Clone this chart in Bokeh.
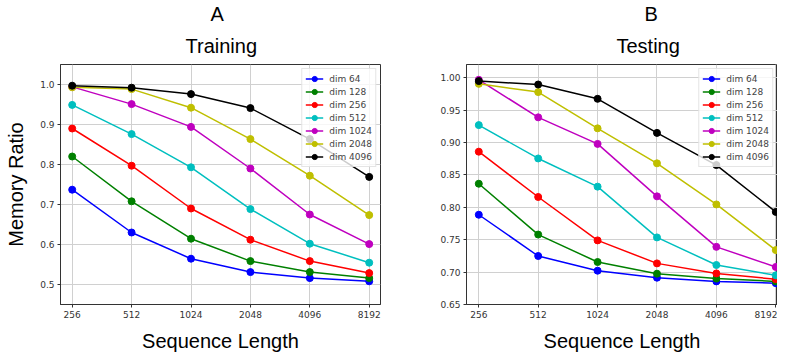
from bokeh.plotting import figure
from bokeh.layouts import row
from bokeh.models import Range1d, FixedTicker, PrintfTickFormatter, NumeralTickFormatter, Title
from bokeh.embed import file_html
from bokeh.resources import INLINE

seq_lengths = [256, 512, 1024, 2048, 4096, 8192]
dim_labels = ["dim 64", "dim 128", "dim 256", "dim 512", "dim 1024", "dim 2048", "dim 4096"]
colors = ["#0000ff", "#008000", "#ff0000", "#00bfbf", "#bf00bf", "#bfbf00", "#000000"]

# Training memory ratio
train_64 = [0.736, 0.629, 0.5635, 0.530, 0.515, 0.507]
train_128 = [0.819, 0.707, 0.6135, 0.5575, 0.530, 0.515]
train_256 = [0.889, 0.796, 0.689, 0.611, 0.5575, 0.5275]
train_512 = [0.948, 0.875, 0.792, 0.6875, 0.601, 0.5535]
train_1024 = [0.993, 0.950, 0.893, 0.789, 0.674, 0.600]
train_2048 = [0.992, 0.9875, 0.941, 0.8625, 0.771, 0.6725]
train_4096 = [0.996, 0.991, 0.975, 0.940, 0.8625, 0.768]

# Testing memory ratio
test_64 = [0.7886, 0.7249, 0.7022, 0.6914, 0.6857, 0.683]
test_128 = [0.8365, 0.758, 0.7156, 0.6976, 0.690, 0.6857]
test_256 = [0.886, 0.816, 0.749, 0.7135, 0.698, 0.689]
test_512 = [0.927, 0.8755, 0.832, 0.7536, 0.711, 0.695]
test_1024 = [0.997, 0.939, 0.898, 0.817, 0.739, 0.708]
test_2048 = [0.9907, 0.978, 0.922, 0.868, 0.8045, 0.734]
test_4096 = [0.995, 0.9897, 0.9676, 0.915, 0.8653, 0.793]

train_series = [train_64, train_128, train_256, train_512, train_1024, train_2048, train_4096]
test_series = [test_64, test_128, test_256, test_512, test_1024, test_2048, test_4096]

train_yticks = [0.5, 0.6, 0.7, 0.8, 0.9, 1.0]
test_yticks = [0.65, 0.70, 0.75, 0.80, 0.85, 0.90, 0.95, 1.00]

SANS = "Liberation Sans"
TICK_FONT = "DejaVu Sans"


def make_panel(letter, title, series, y0, y1, yticks, yfmt, xs_exp, xe_exp,
               frame_width, border_left, border_right, ylabel,
               title_off, letter_off):
    p = figure(
        x_axis_type="log",
        x_range=Range1d(seq_lengths[0] * 2 ** xs_exp, seq_lengths[-1] * 2 ** xe_exp),
        y_range=Range1d(y0, y1),
        frame_width=frame_width, frame_height=240,
        min_border_left=border_left, min_border_right=border_right,
        min_border_top=55, min_border_bottom=49,
        toolbar_location=None, output_backend="svg",
    )
    for vals, c, lab in zip(series, colors, dim_labels):
        p.line(seq_lengths, vals, line_color=c, line_width=1.5, legend_label=lab)
        p.scatter(seq_lengths, vals, size=7, fill_color=c, line_color=c, legend_label=lab)

    # top line: panel letter
    p.title.text = letter
    p.title.text_font = SANS
    p.title.text_font_size = "20px"
    p.title.text_font_style = "normal"
    p.title.text_color = "#000000"
    p.title.align = "left"
    p.title.offset = letter_off
    p.title.standoff = 0
    # second line (closer to the frame): panel name
    p.add_layout(Title(text=title, text_font=SANS, text_font_size="20px",
                       text_font_style="normal", text_color="#000000",
                       align="left", offset=title_off, standoff=16), "above")

    p.xaxis.ticker = FixedTicker(ticks=seq_lengths, minor_ticks=[])
    p.xaxis.formatter = NumeralTickFormatter(format="0")
    p.yaxis.ticker = FixedTicker(ticks=yticks, minor_ticks=[])
    p.yaxis.formatter = PrintfTickFormatter(format=yfmt)
    for ax in (p.xaxis, p.yaxis):
        ax.major_label_text_font = TICK_FONT
        ax.major_label_text_font_size = "9px"
        ax.major_label_text_color = "#333333"
        ax.axis_line_color = "#333333"
        ax.major_tick_line_color = "#333333"
        ax.major_tick_out = 3
        ax.major_tick_in = 0
        ax.minor_tick_out = 0
        ax.minor_tick_in = 0
        ax.major_label_standoff = 3
        ax.axis_label_text_font = SANS
        ax.axis_label_text_font_size = "20px"
        ax.axis_label_text_font_style = "normal"
        ax.axis_label_text_color = "#000000"
    p.xaxis.axis_label = "Sequence Length"
    p.xaxis.axis_label_standoff = 9
    if ylabel:
        p.yaxis.axis_label = ylabel
        p.yaxis.axis_label_standoff = 10
    p.outline_line_color = "#333333"
    p.grid.grid_line_color = "#d0d0d0"
    p.grid.grid_line_width = 1

    lg = p.legend[0]
    lg.location = "top_right"
    lg.margin = 4
    lg.padding = 3
    lg.spacing = 0
    lg.label_height = 13
    lg.glyph_height = 13
    lg.glyph_width = 18
    lg.label_standoff = 6
    lg.label_text_font = TICK_FONT
    lg.label_text_font_size = "9px"
    lg.background_fill_alpha = 0.8
    lg.border_line_color = "#cccccc"
    lg.border_line_width = 1
    p.background_fill_color = "#ffffff"
    return p


left = make_panel("A", "Training", train_series, 0.449, 1.049, train_yticks, "%.1f",
                  -0.197, 0.19, 320, 60, 12, "Memory Ratio", 125, 150)
right = make_panel("B", "Testing", test_series, 0.65, 1.0206, test_yticks, "%.2f",
                   -0.207, 0.029, 311, 74, 0, None, 150, 178)

layout = row(left, right)
open("out.html", "w").write(file_html(layout, INLINE))
